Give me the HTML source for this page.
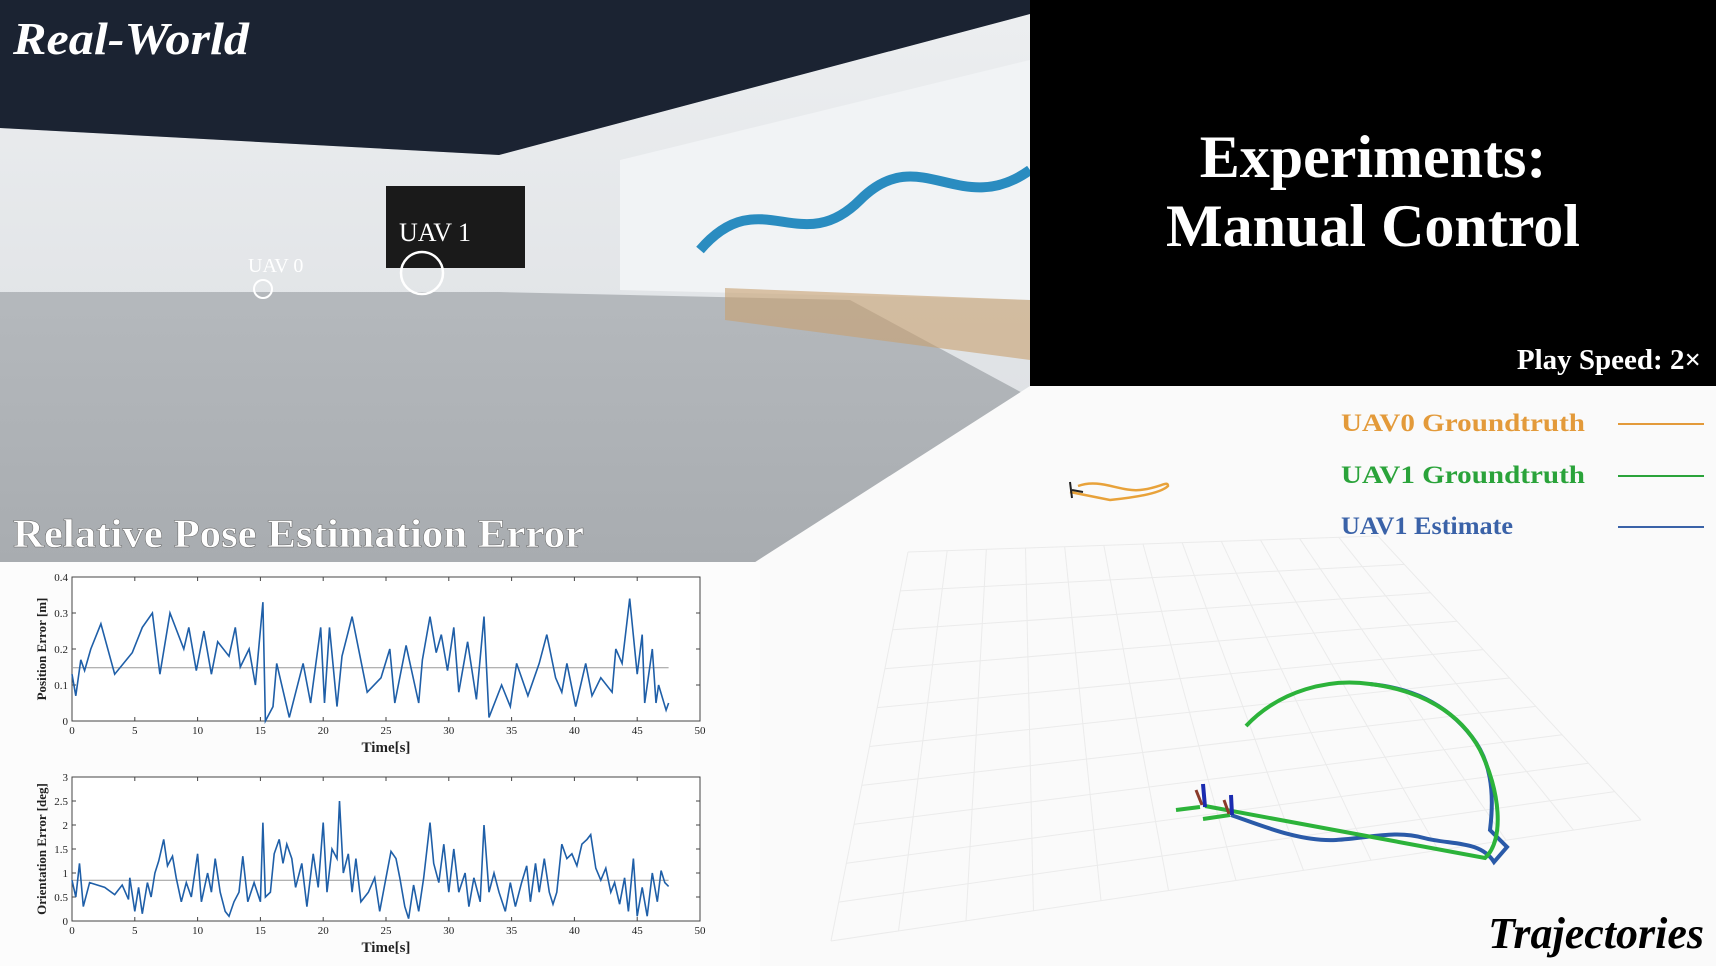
<!DOCTYPE html>
<html><head><meta charset="utf-8"><style>
html,body{margin:0;padding:0;width:1716px;height:966px;overflow:hidden;background:#fafafa;font-family:"Liberation Serif",serif}
svg text{font-family:"Liberation Serif",serif}
</style></head><body>
<svg width="1716" height="966" viewBox="0 0 1716 966">
<defs>
<linearGradient id="floor" x1="0" y1="0" x2="0" y2="1"><stop offset="0" stop-color="#c2c6ca"/><stop offset="1" stop-color="#a8acb0"/></linearGradient>
<linearGradient id="wall" x1="0" y1="0" x2="0" y2="1"><stop offset="0" stop-color="#eceef0"/><stop offset="1" stop-color="#dfe2e5"/></linearGradient>
</defs>
<rect x="0" y="0" width="1716" height="966" fill="#fafafa"/>
<g>
<rect x="0" y="0" width="1030" height="566" fill="url(#floor)"/>
<polygon points="0,128 499,155 1030,14 1030,397 850,300 499,292 0,292" fill="url(#wall)"/>
<polygon points="0,0 1030,0 1030,14 499,155 0,128" fill="#1b2332"/>
<polygon points="620,160 1030,60 1030,300 620,290" fill="#f1f3f5"/>
<path d="M700,250 C760,180 800,260 860,200 C920,140 960,220 1030,170" stroke="#2a8cc0" stroke-width="10" fill="none"/>
<rect x="386" y="186" width="139" height="82" fill="#1a1a1a"/>
<polygon points="725,288 1030,300 1030,360 725,320" fill="#c8a070" opacity="0.6"/>
<circle cx="263" cy="289" r="9" fill="none" stroke="#fff" stroke-width="2"/>
<circle cx="422" cy="273" r="21" fill="none" stroke="#fff" stroke-width="2.5"/>
<text x="248" y="272" font-size="20" fill="#fff">UAV 0</text>
<text x="399" y="241" font-size="26" fill="#fff">UAV 1</text>
<text x="13" y="54" font-size="46" font-weight="bold" font-style="italic" fill="#fff" textLength="236" lengthAdjust="spacingAndGlyphs">Real-World</text>
</g>
<polygon points="1030,386 1716,386 1716,966 0,966 0,566 749,566" fill="#fafafa"/>
<rect x="0" y="562" width="760" height="404" fill="#fcfcfc"/>
<text x="13" y="547" font-size="40" font-weight="bold" fill="#fff" stroke="#666" stroke-width="0.5" textLength="571" lengthAdjust="spacingAndGlyphs">Relative Pose Estimation Error</text>
<g>
<rect x="1030" y="0" width="686" height="386" fill="#000"/>
<text x="1373" y="177" font-size="60" font-weight="bold" fill="#fff" text-anchor="middle">Experiments:</text>
<text x="1373" y="246" font-size="60" font-weight="bold" fill="#fff" text-anchor="middle">Manual Control</text>
<text x="1701" y="369" font-size="29" font-weight="bold" fill="#fff" text-anchor="end">Play Speed: 2×</text>
</g>
<g id="grid"></g>
<g>
<path d="M1078,486 C1100,478 1120,492 1140,490 C1160,488 1168,480 1168,486 C1160,494 1130,498 1110,500 L1070,492" stroke="#e8a23a" stroke-width="2.5" fill="none"/>
<path d="M1070,482 L1072,498 M1072,490 L1083,492" stroke="#222" stroke-width="2"/>
<path d="M1231,815 C1260,825 1300,842 1336,840 C1370,838 1395,830 1424,838 C1450,845 1480,840 1494,862 L1507,847 L1490,830 C1495,790 1490,760 1472,737 C1445,702 1410,688 1370,684" stroke="#2a5aa8" stroke-width="4" fill="none"/>
<path d="M1246,726 C1280,690 1330,678 1370,684 C1420,690 1460,712 1480,750 C1500,790 1505,840 1485,858 L1205,806" stroke="#2cb33a" stroke-width="4" fill="none"/>
<path d="M1176,810 L1200,807 M1203,819 L1230,815" stroke="#2cb33a" stroke-width="4" fill="none"/>
<path d="M1203,784 L1205,807 M1231,795 L1232,815" stroke="#1a2bb0" stroke-width="4"/>
<path d="M1196,790 L1202,805 M1224,800 L1229,814" stroke="#8a3a2a" stroke-width="3"/>
</g>
<g>
<text x="1341" y="431" font-size="25" font-weight="bold" fill="#e39a3a" textLength="244" lengthAdjust="spacingAndGlyphs">UAV0  Groundtruth</text>
<line x1="1618" y1="424" x2="1704" y2="424" stroke="#e39a3a" stroke-width="2"/>
<text x="1341" y="483" font-size="25" font-weight="bold" fill="#2aa33a" textLength="244" lengthAdjust="spacingAndGlyphs">UAV1  Groundtruth</text>
<line x1="1618" y1="476" x2="1704" y2="476" stroke="#2aa33a" stroke-width="2"/>
<text x="1341" y="534" font-size="25" font-weight="bold" fill="#3a62a8" textLength="172" lengthAdjust="spacingAndGlyphs">UAV1  Estimate</text>
<line x1="1618" y1="527" x2="1704" y2="527" stroke="#3a62a8" stroke-width="2"/>
</g>
<text x="1704" y="948" font-size="44" font-weight="bold" font-style="italic" fill="#000" text-anchor="end">Trajectories</text>
<g id="chart1"></g>
<g id="chart2"></g>
</svg>
<script>
const posTimes=[0,0.3,0.7,1,1.5,2.3,3.4,4.8,5.6,6.4,7,7.8,8.9,9.3,9.9,10.5,11.1,11.6,12.5,13,13.4,14.1,14.6,15.2,15.4,16,16.3,17.3,18.4,19,19.8,20.1,20.5,21.1,21.5,22.3,23.5,24.6,25.3,25.7,26.6,27.6,27.9,28.5,29,29.4,29.9,30.4,30.8,31.5,32.2,32.8,33.2,34.2,34.9,35.4,36.3,37.2,37.8,38.5,39,39.4,40.1,40.9,41.4,42.1,43,43.3,43.8,44.4,45,45.4,45.6,46.2,46.5,46.7,47.3,47.5];
const posValues=[0.13,0.07,0.17,0.14,0.2,0.27,0.13,0.19,0.26,0.3,0.13,0.3,0.2,0.26,0.14,0.25,0.13,0.22,0.18,0.26,0.15,0.2,0.1,0.33,0.0,0.04,0.16,0.01,0.16,0.05,0.26,0.05,0.26,0.04,0.18,0.29,0.08,0.12,0.2,0.05,0.21,0.05,0.17,0.29,0.19,0.24,0.14,0.26,0.08,0.22,0.06,0.29,0.01,0.1,0.04,0.16,0.07,0.16,0.24,0.12,0.08,0.16,0.04,0.16,0.07,0.12,0.08,0.2,0.16,0.34,0.13,0.24,0.05,0.2,0.05,0.1,0.03,0.05];
const posMean=0.148;
const posTicks=[0,0.1,0.2,0.3,0.4];
const oriTimes=[0,0.3,0.6,0.9,1.4,2.6,3.4,4,4.5,4.6,5,5.3,5.6,6,6.3,6.6,6.9,7.3,7.6,8,8.3,8.7,9.1,9.5,10,10.3,10.8,11.1,11.4,11.8,12.2,12.5,12.9,13.3,13.6,14,14.5,15,15.2,15.4,15.8,16.1,16.5,16.8,17.1,17.5,17.8,18.3,18.7,19.2,19.6,20,20.3,20.7,21.1,21.3,21.6,22,22.3,22.6,23,23.6,24.1,24.5,25,25.4,25.8,26.1,26.5,26.8,27.2,27.6,28,28.5,28.8,29.2,29.6,30,30.4,30.8,31.3,31.6,32,32.5,32.8,33.2,33.6,34,34.5,34.9,35.3,35.8,36.2,36.5,36.9,37.2,37.6,38,38.3,38.6,39,39.4,39.8,40.2,40.6,41,41.3,41.7,42.1,42.5,42.9,43.2,43.6,44,44.3,44.7,45,45.4,45.8,46.2,46.6,46.9,47.2,47.5];
const oriValues=[0.85,0.5,1.2,0.3,0.8,0.7,0.55,0.75,0.45,0.9,0.2,0.7,0.15,0.8,0.5,1.0,1.25,1.7,1.15,1.35,0.9,0.4,0.8,0.5,1.4,0.4,1.0,0.6,1.3,0.6,0.2,0.1,0.4,0.6,1.35,0.4,0.8,0.4,2.05,0.5,0.6,1.4,1.7,1.2,1.6,1.3,0.7,1.2,0.3,1.4,0.7,2.05,0.6,1.5,1.3,2.5,1.0,1.4,0.6,1.3,0.4,0.6,0.9,0.2,0.9,1.45,1.3,0.9,0.3,0.05,0.75,0.2,0.9,2.05,1.2,0.8,1.6,0.6,1.5,0.6,1.0,0.3,0.9,0.4,2.0,0.6,1.0,0.6,0.2,0.8,0.3,0.8,1.15,0.4,1.2,0.6,1.3,0.6,0.35,0.6,1.6,1.3,1.4,1.15,1.6,1.7,1.8,1.1,0.85,1.1,0.6,0.8,0.35,0.9,0.2,1.3,0.1,0.7,0.1,1.0,0.4,1.05,0.8,0.72];
const oriMean=0.85;
const oriTicks=[0,0.5,1,1.5,2,2.5,3];
const timeTicks=[0,5,10,15,20,25,30,35,40,45,50];
const NS='http://www.w3.org/2000/svg';
function mk(tag,attrs,parent){const e=document.createElementNS(NS,tag);for(const k in attrs)e.setAttribute(k,attrs[k]);parent.appendChild(e);return e;}
function chart(g,top,bottom,ymax,times,vals,mean,yticks,ylabel,prefix){
  const L=72,R=700;
  const xs=t=>L+(R-L)*t/50, ys=v=>bottom-(bottom-top)*v/ymax;
  const frame=mk('rect',{x:L,y:top,width:R-L,height:bottom-top,fill:'#fff',stroke:'#444','stroke-width':1},g);
  
  
  timeTicks.forEach(t=>{
    mk('line',{x1:xs(t),x2:xs(t),y1:bottom,y2:bottom-4,stroke:'#444'},g);
    mk('line',{x1:xs(t),x2:xs(t),y1:top,y2:top+4,stroke:'#444'},g);
    const tx=mk('text',{x:xs(t),y:bottom+13,'font-size':11,'text-anchor':'middle',fill:'#222'},g);tx.textContent=t;
    
    
  });
  yticks.forEach(v=>{
    mk('line',{x1:L,x2:L+4,y1:ys(v),y2:ys(v),stroke:'#444'},g);
    mk('line',{x1:R,x2:R-4,y1:ys(v),y2:ys(v),stroke:'#444'},g);
    const tx=mk('text',{x:L-4,y:ys(v)+4,'font-size':11,'text-anchor':'end',fill:'#222'},g);tx.textContent=v;
    
    
  });
  const ml=mk('line',{x1:xs(0),x2:xs(47.5),y1:ys(mean),y2:ys(mean),stroke:'#999','stroke-width':1},g);
  
  
  let d='';times.forEach((t,i)=>{d+=(i?'L':'M')+xs(t).toFixed(1)+','+ys(vals[i]).toFixed(1);});
  const p=mk('path',{d:d,fill:'none',stroke:'#1f5fa8','stroke-width':1.6},g);
  
  
  const xl=mk('text',{x:(L+R)/2,y:bottom+31,'font-size':15,'font-weight':'bold','text-anchor':'middle',fill:'#222'},g);xl.textContent='Time[s]';
  
  
  const yl=mk('text',{x:0,y:0,'font-size':13,'font-weight':'bold','text-anchor':'middle',fill:'#222',transform:`translate(46,${(top+bottom)/2}) rotate(-90)`},g);yl.textContent=ylabel;
  
  
}
chart(document.getElementById('chart1'),577,721,0.4,posTimes,posValues,posMean,posTicks,'Position Error [m]','position');
chart(document.getElementById('chart2'),777,921,3,oriTimes,oriValues,oriMean,oriTicks,'Orientation Error [deg]','orientation');
const gg=document.getElementById('grid');
const P=[[908,552],[1378,536],[1641,820],[831,941]];
function bil(u,v){const a=P[0],b=P[1],c=P[2],d=P[3];
 const x=(1-u)*(1-v)*a[0]+u*(1-v)*b[0]+u*v*c[0]+(1-u)*v*d[0];
 const y=(1-u)*(1-v)*a[1]+u*(1-v)*b[1]+u*v*c[1]+(1-u)*v*d[1];return [x,y];}
for(let i=0;i<=12;i++){const u=i/12;const p1=bil(u,0),p2=bil(u,1);mk('line',{x1:p1[0],y1:p1[1],x2:p2[0],y2:p2[1],stroke:'#ebebeb','stroke-width':1},gg);}
for(let j=0;j<=10;j++){const v=j/10;const p1=bil(0,v),p2=bil(1,v);mk('line',{x1:p1[0],y1:p1[1],x2:p2[0],y2:p2[1],stroke:'#ebebeb','stroke-width':1},gg);}
</script>
</body></html>
